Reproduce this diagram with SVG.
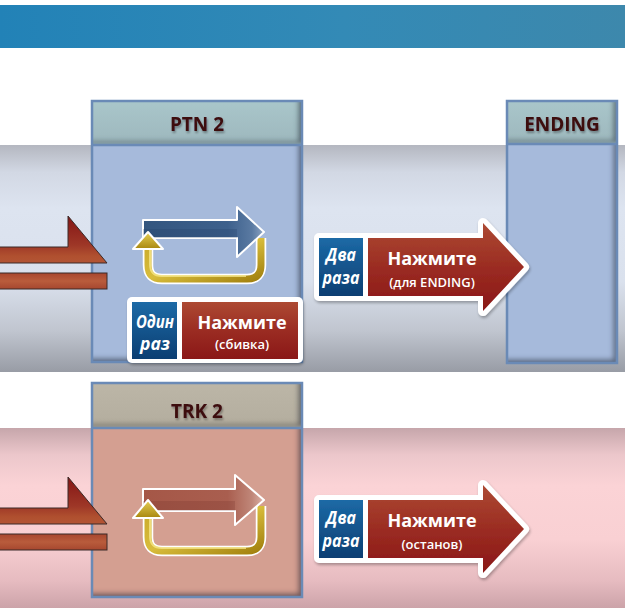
<svg xmlns="http://www.w3.org/2000/svg" width="625" height="608" viewBox="0 0 625 608">
<defs>
<style>
.hdr{font-family:"Open Sans","Noto Sans",sans-serif;font-weight:700;font-size:19px;fill:#3c0a0f;text-anchor:middle}
.press{font-family:"Open Sans","Noto Sans",sans-serif;font-weight:700;font-size:18px;fill:#fff;text-anchor:middle}
.sub{font-family:"Open Sans","Noto Sans",sans-serif;font-weight:600;font-size:13px;fill:#fff;text-anchor:middle}
.cnt{font-family:"Open Sans","Noto Sans",sans-serif;font-weight:700;font-style:italic;font-size:17px;fill:#fff;text-anchor:middle}
.frame{stroke:#6a8ab6;stroke-width:2.5}
.bigarrow{stroke:#3b2a28;stroke-width:1}
.outline{fill:#fff;stroke:#fff;stroke-width:10;stroke-linejoin:round}
.loopw{fill:none;stroke:#fff;stroke-width:10.5;stroke-linecap:butt}
.loopy{fill:none;stroke:url(#gold);stroke-width:7}
.loophl{fill:none;stroke:#f5e68a;stroke-width:2;opacity:.8}
</style>
<linearGradient id="banner" x1="0" y1="0" x2="1" y2="0">
<stop offset="0" stop-color="#2282b7"/><stop offset="0.55" stop-color="#338ab6"/><stop offset="1" stop-color="#3d88ac"/>
</linearGradient>
<linearGradient id="bandU" x1="0" y1="145" x2="0" y2="372" gradientUnits="userSpaceOnUse">
<stop offset="0" stop-color="#b4b7c0"/><stop offset="0.12" stop-color="#d2d8e4"/><stop offset="0.28" stop-color="#dde4f0"/><stop offset="0.6" stop-color="#dae1ed"/><stop offset="0.82" stop-color="#c0c5cf"/><stop offset="1" stop-color="#989ca5"/>
</linearGradient>
<linearGradient id="bandL" x1="0" y1="428" x2="0" y2="608" gradientUnits="userSpaceOnUse">
<stop offset="0" stop-color="#c6a6ab"/><stop offset="0.15" stop-color="#ecc7cb"/><stop offset="0.32" stop-color="#fbd3d6"/><stop offset="0.62" stop-color="#f9d0d3"/><stop offset="0.85" stop-color="#e6bbc0"/><stop offset="1" stop-color="#cca3a9"/>
</linearGradient>
<linearGradient id="hdrB" x1="0" y1="0" x2="0" y2="1">
<stop offset="0" stop-color="#a9c6ca"/><stop offset="1" stop-color="#9db7bd"/>
</linearGradient>
<linearGradient id="hdrT" x1="0" y1="0" x2="0" y2="1">
<stop offset="0" stop-color="#bcb6a7"/><stop offset="1" stop-color="#b3ad9e"/>
</linearGradient>
<linearGradient id="bigU" x1="0" y1="216" x2="0" y2="263" gradientUnits="userSpaceOnUse">
<stop offset="0" stop-color="#841515"/><stop offset="0.62" stop-color="#9e3727"/><stop offset="0.85" stop-color="#b0502f"/><stop offset="1" stop-color="#b35535"/>
</linearGradient>
<linearGradient id="bigL" x1="0" y1="477" x2="0" y2="524" gradientUnits="userSpaceOnUse">
<stop offset="0" stop-color="#841515"/><stop offset="0.62" stop-color="#9e3727"/><stop offset="0.85" stop-color="#b0502f"/><stop offset="1" stop-color="#b35535"/>
</linearGradient>
<linearGradient id="bar" x1="0" y1="0" x2="0" y2="1">
<stop offset="0" stop-color="#a8462e"/><stop offset="0.5" stop-color="#b95c3c"/><stop offset="1" stop-color="#a6472f"/>
</linearGradient>
<linearGradient id="redlbl" x1="0" y1="0" x2="0" y2="1">
<stop offset="0" stop-color="#ad4a33"/><stop offset="0.5" stop-color="#9b2c22"/><stop offset="1" stop-color="#8a1717"/>
</linearGradient>
<linearGradient id="bluelbl" x1="0" y1="0" x2="0" y2="1">
<stop offset="0" stop-color="#1c6aa6"/><stop offset="1" stop-color="#0b3e72"/>
</linearGradient>
<linearGradient id="gold" x1="0" y1="0" x2="1" y2="1">
<stop offset="0" stop-color="#c9a92a"/><stop offset="0.5" stop-color="#d8bd3c"/><stop offset="1" stop-color="#a3820f"/>
</linearGradient>
<linearGradient id="goldHead" x1="0" y1="0" x2="0" y2="1">
<stop offset="0" stop-color="#e6cf55"/><stop offset="1" stop-color="#a8870f"/>
</linearGradient>
<linearGradient id="blueArr" x1="143" y1="0" x2="264" y2="0" gradientUnits="userSpaceOnUse">
<stop offset="0" stop-color="#34567f"/><stop offset="0.7" stop-color="#3d608c"/><stop offset="0.9" stop-color="#5a7aa2"/><stop offset="1" stop-color="#8ea5c3"/>
</linearGradient>
<linearGradient id="redArr" x1="143" y1="0" x2="264" y2="0" gradientUnits="userSpaceOnUse">
<stop offset="0" stop-color="#a55747"/><stop offset="0.7" stop-color="#a95e4f"/><stop offset="0.9" stop-color="#c08779"/><stop offset="1" stop-color="#dcb3a8"/>
</linearGradient>
<filter id="inset" x="-5%" y="-5%" width="110%" height="110%">
<feComponentTransfer in="SourceAlpha" result="inv"><feFuncA type="table" tableValues="1 0"/></feComponentTransfer>
<feGaussianBlur in="inv" stdDeviation="2.5"/>
<feOffset dx="-4" dy="-4" result="off"/>
<feFlood flood-color="#1d2a40" flood-opacity="0.75"/>
<feComposite in2="off" operator="in"/>
<feComposite in2="SourceAlpha" operator="in" result="sh"/>
<feMerge><feMergeNode in="SourceGraphic"/><feMergeNode in="sh"/></feMerge>
</filter>
<filter id="tsh" x="-10%" y="-20%" width="130%" height="150%">
<feGaussianBlur in="SourceAlpha" stdDeviation="0.8"/>
<feOffset dx="1.2" dy="1.5"/>
<feComponentTransfer><feFuncA type="linear" slope="0.35"/></feComponentTransfer>
<feMerge><feMergeNode/><feMergeNode in="SourceGraphic"/></feMerge>
</filter>
<filter id="drop" x="-10%" y="-10%" width="130%" height="130%">
<feGaussianBlur in="SourceAlpha" stdDeviation="1.5"/>
<feOffset dx="1" dy="1.5"/>
<feComponentTransfer><feFuncA type="linear" slope="0.3"/></feComponentTransfer>
<feMerge><feMergeNode/><feMergeNode in="SourceGraphic"/></feMerge>
</filter>
</defs>

<rect x="0" y="0" width="625" height="608" fill="#fff"/>

<g id="backgrounds">
<rect id="banner" x="0" y="5" width="625" height="43" fill="url(#banner)"/>
<rect id="band-upper" x="0" y="145" width="625" height="227" fill="url(#bandU)"/>
<rect id="band-lower" x="0" y="428" width="625" height="180" fill="url(#bandL)"/>
</g>

<g id="node-ptn2">
<rect x="92" y="145" width="210" height="217" fill="#a6badb" filter="url(#inset)"/>
<rect x="92" y="101" width="210" height="44" fill="url(#hdrB)" filter="url(#inset)"/>
<rect x="92" y="101" width="210" height="261" fill="none" class="frame"/>
<line x1="92" y1="145" x2="302" y2="145" class="frame"/>
<text x="197" y="131" class="hdr" filter="url(#tsh)">PTN 2</text>
</g>

<g id="node-ending">
<rect x="507" y="144" width="110" height="219" fill="#a6badb" filter="url(#inset)"/>
<rect x="507" y="101" width="110" height="43" fill="url(#hdrB)" filter="url(#inset)"/>
<rect x="507" y="101" width="110" height="262" fill="none" class="frame"/>
<line x1="507" y1="144" x2="617" y2="144" class="frame"/>
<text x="562" y="131" class="hdr" filter="url(#tsh)">ENDING</text>
</g>

<g id="node-trk2">
<rect x="92" y="428" width="210" height="169" fill="#d49f91" filter="url(#inset)"/>
<rect x="92" y="383" width="210" height="45" fill="url(#hdrT)" filter="url(#inset)"/>
<rect x="92" y="383" width="210" height="214" fill="none" class="frame"/>
<line x1="92" y1="428" x2="302" y2="428" class="frame"/>
<text x="197" y="418" class="hdr" filter="url(#tsh)">TRK 2</text>
</g>

<g id="loop-ptn2">
<path d="M148,248 V265 Q148,279 162,279 H247 Q261,279 261,265 V238" class="loopw"/>
<path d="M148,248 V265 Q148,279 162,279 H247 Q261,279 261,265 V238" class="loopy"/>
<path d="M150,250 V264 Q150,276 162,276 H246" class="loophl"/>
<polygon points="143,220 237,220 237,207 264,232 237,257 237,238 143,238" fill="url(#blueArr)" stroke="#fff" stroke-width="2" stroke-linejoin="round"/>
<polygon points="143,229 237,229 237,238 143,238" fill="#1f3b62" opacity="0.25"/>
<polygon points="133,249 163,249 148,232" fill="url(#goldHead)" stroke="#fff" stroke-width="2" stroke-linejoin="round"/>
</g>

<g id="loop-trk2">
<path d="M148,517 V537 Q148,551 162,551 H247 Q261,551 261,537 V506" class="loopw"/>
<path d="M148,517 V537 Q148,551 162,551 H247 Q261,551 261,537 V506" class="loopy"/>
<path d="M150,519 V536 Q150,548 162,548 H246" class="loophl"/>
<polygon points="143,489 235,489 235,475 264,500 235,525 235,511 143,511" fill="url(#redArr)" stroke="#fff" stroke-width="2" stroke-linejoin="round"/>
<polygon points="143,501 235,501 235,511 143,511" fill="#6a2a22" opacity="0.2"/>
<polygon points="133,518 163,518 148,500" fill="url(#goldHead)" stroke="#fff" stroke-width="2" stroke-linejoin="round"/>
</g>

<g id="connectors">
<g id="in-arrow-upper">
<polygon points="-2,247 68,247 68,216 107,263 -2,263" fill="url(#bigU)" class="bigarrow"/>
<rect x="-2" y="273" width="109" height="16" fill="url(#bar)" class="bigarrow"/>
</g>
<g id="in-arrow-lower">
<polygon points="-2,508 68,508 68,477 107,524 -2,524" fill="url(#bigL)" class="bigarrow"/>
<rect x="-2" y="534" width="109" height="16" fill="url(#bar)" class="bigarrow"/>
</g>
<g id="press-twice-ending" filter="url(#drop)">
<polygon points="319,238 483,238 483,223 524,267 483,311 483,296 319,296" class="outline"/>
<rect x="319" y="238" width="44" height="58" fill="url(#bluelbl)"/>
<polygon points="368,238 483,238 483,223 524,267 483,311 483,296 368,296" fill="url(#redlbl)"/>
</g>
<g id="press-twice-stop" filter="url(#drop)">
<polygon points="319,500 483,500 483,485 524,529 483,573 483,558 319,558" class="outline"/>
<rect x="319" y="500" width="44" height="58" fill="url(#bluelbl)"/>
<polygon points="368,500 483,500 483,485 524,529 483,573 483,558 368,558" fill="url(#redlbl)"/>
</g>
</g>

<g id="label-press-once">
<rect x="127" y="297" width="176" height="66" rx="5" fill="#fff" filter="url(#drop)"/>
<rect x="132" y="302" width="45" height="57" fill="url(#bluelbl)"/>
<rect x="182" y="302" width="116" height="57" fill="url(#redlbl)"/>
<text x="155" y="328" class="cnt" textLength="38" lengthAdjust="spacingAndGlyphs">Один</text>
<text x="155" y="350" class="cnt" textLength="30" lengthAdjust="spacingAndGlyphs">раз</text>
<text x="242" y="329" class="press">Нажмите</text>
<text x="242" y="349" class="sub">(сбивка)</text>
</g>

<g id="label-twice-ending">
<text x="341" y="261" class="cnt" textLength="30" lengthAdjust="spacingAndGlyphs">Два</text>
<text x="341" y="284" class="cnt" textLength="37" lengthAdjust="spacingAndGlyphs">раза</text>
<text x="432" y="265" class="press">Нажмите</text>
<text x="432" y="287" class="sub">(для ENDING)</text>
</g>

<g id="label-twice-stop">
<text x="341" y="524" class="cnt" textLength="30" lengthAdjust="spacingAndGlyphs">Два</text>
<text x="341" y="547" class="cnt" textLength="37" lengthAdjust="spacingAndGlyphs">раза</text>
<text x="432" y="527" class="press">Нажмите</text>
<text x="432" y="549" class="sub">(останов)</text>
</g>
</svg>
